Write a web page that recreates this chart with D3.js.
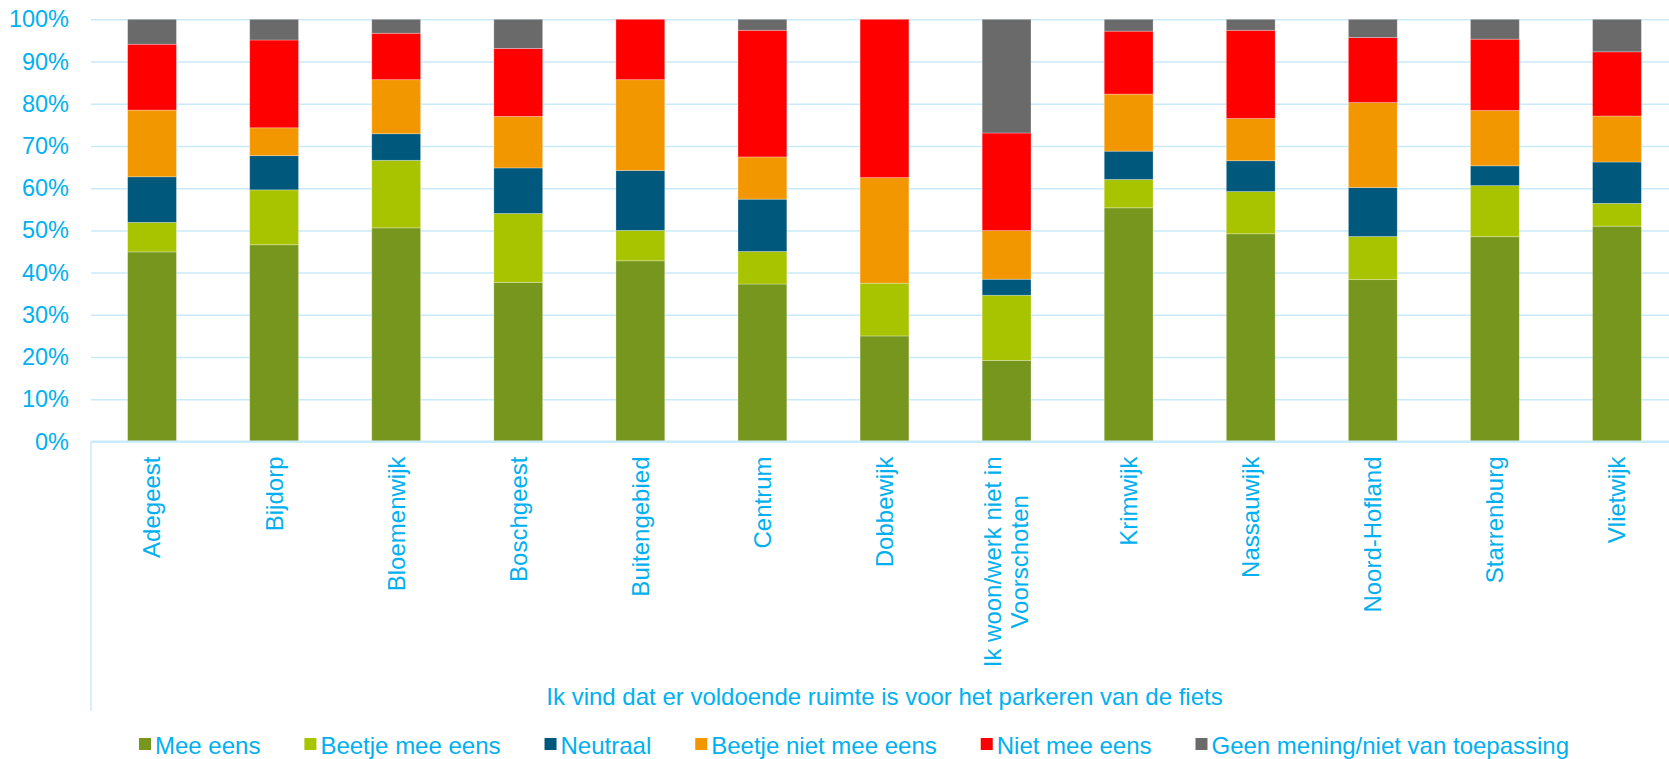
<!DOCTYPE html>
<html>
<head>
<meta charset="utf-8">
<script src="https://cdn.jsdelivr.net/npm/d3@7"></script>
<style>
  body { margin: 0; background: #fff; }
  svg { display: block; font-family: "Liberation Sans", Arial, sans-serif; }
</style>
</head>
<body>
<div id="chart"></div>
<script>
// chart data (percent per answer, per district)
const categories = [
  "Adegeest", "Bijdorp", "Bloemenwijk", "Boschgeest", "Buitengebied", "Centrum",
  "Dobbewijk", "Ik woon/werk niet in Voorschoten", "Krimwijk", "Nassauwijk",
  "Noord-Hofland", "Starrenburg", "Vlietwijk"
];
const seriesNames = [
  "Mee eens", "Beetje mee eens", "Neutraal", "Beetje niet mee eens",
  "Niet mee eens", "Geen mening/niet van toepassing"
];
const meeEens       = [44.9, 46.6, 50.6, 37.7, 42.8, 37.3, 25.0, 19.2, 55.3, 49.2, 38.3, 48.5, 51.0];
const beetjeMeeEens = [7.0, 13.0, 16.0, 16.3, 7.2, 7.7, 12.5, 15.4, 6.7, 10.0, 10.2, 12.1, 5.4];
const neutraal      = [10.8, 8.1, 6.3, 10.8, 14.2, 12.4, 0, 3.8, 6.7, 7.3, 11.6, 4.7, 9.8];
const beetjeNiet    = [15.8, 6.6, 12.8, 12.2, 21.5, 10.0, 25.0, 11.5, 13.5, 10.0, 20.1, 13.1, 10.9];
const nietMeeEens   = [15.6, 20.8, 11.0, 16.1, 14.3, 30.0, 37.5, 23.1, 14.9, 20.9, 15.4, 16.9, 15.2];
const geenMening    = [5.9, 4.9, 3.3, 6.9, 0, 2.6, 0, 26.9, 2.8, 2.6, 4.3, 4.7, 7.7];
const yTicks = [0, 0.1, 0.2, 0.3, 0.4, 0.5, 0.6, 0.7, 0.8, 0.9, 1];
const axisTitle = "Ik vind dat er voldoende ruimte is voor het parkeren van de fiets";

const seriesValues = [meeEens, beetjeMeeEens, neutraal, beetjeNiet, nietMeeEens, geenMening];
const colors = ["#76961d", "#a8c300", "#00587c", "#f39700", "#ff0000", "#6a6a6a"];
const textColor = "#00b0f0";
const gridColor = "#c8eafa";

const width = 1669;
const height = 759;
const plot = { left: 91, right: 1678, top: 19.3, bottom: 441.5 };
const fontSize = "24px";

// rows for d3.stack
const rows = categories.map((c, i) => {
  const r = { category: c };
  seriesNames.forEach((s, j) => (r[s] = seriesValues[j][i]));
  return r;
});

const stacked = d3.stack()
  .keys(seriesNames)
  .offset(d3.stackOffsetExpand)(rows);

const x = d3.scaleBand()
  .domain(categories)
  .range([plot.left, plot.right])
  .paddingInner(0.6)
  .paddingOuter(0.3);

const y = d3.scaleLinear()
  .domain([0, 1])
  .range([plot.bottom, plot.top]);

const color = d3.scaleOrdinal().domain(seriesNames).range(colors);

const svg = d3.select("#chart")
  .append("svg")
  .attr("width", width)
  .attr("height", height);

// y axis + gridlines
const yAxis = svg.append("g")
  .attr("transform", `translate(${plot.left},0)`)
  .call(d3.axisLeft(y)
    .tickValues(yTicks)
    .tickFormat(d3.format(".0%"))
    .tickSizeInner(-(plot.right - plot.left))
    .tickSizeOuter(0)
    .tickPadding(22));
yAxis.select(".domain").remove();
yAxis.selectAll(".tick line")
  .attr("stroke", gridColor)
  .attr("stroke-width", 1.5);
yAxis.selectAll(".tick text")
  .attr("fill", textColor)
  .style("font-size", "23.5px");

// bars
svg.append("g")
  .selectAll("g")
  .data(stacked)
  .join("g")
  .attr("fill", (d) => color(d.key))
  .selectAll("rect")
  .data((d) => d)
  .join("rect")
  .attr("x", (d) => x(d.data.category))
  .attr("y", (d) => y(d[1]))
  .attr("width", x.bandwidth())
  .attr("height", (d) => y(d[0]) - y(d[1]))
  .attr("stroke", "#ffffff")
  .attr("stroke-opacity", 0.35)
  .attr("stroke-width", 0.8);

// category axis line and the left border of the label area
svg.append("line")
  .attr("x1", plot.left).attr("x2", plot.right)
  .attr("y1", plot.bottom).attr("y2", plot.bottom)
  .attr("stroke", gridColor).attr("stroke-width", 2);
svg.append("line")
  .attr("x1", plot.left).attr("x2", plot.left)
  .attr("y1", plot.bottom).attr("y2", 711)
  .attr("stroke", gridColor).attr("stroke-width", 1.5);

// rotated category labels, wrapped if too long (lines centred)
const labelTop = plot.bottom + 15;
const lineHeight = 27;
const maxLabel = 215;

const measure = svg.append("text").style("font-size", fontSize);
function textWidth(s) {
  measure.text(s);
  return measure.node().getComputedTextLength();
}
function wrap(label) {
  const words = label.split(" ");
  const lines = [];
  let line = "";
  words.forEach((w) => {
    const test = line ? line + " " + w : w;
    if (line && textWidth(test) > maxLabel) {
      lines.push(line);
      line = w;
    } else {
      line = test;
    }
  });
  lines.push(line);
  return lines;
}

categories.forEach((c) => {
  const lines = wrap(c);
  const longest = d3.max(lines, textWidth);
  const g = svg.append("g")
    .attr("transform", `translate(${x(c) + x.bandwidth() / 2},${labelTop}) rotate(-90)`);
  g.selectAll("text")
    .data(lines)
    .join("text")
    .attr("x", -longest / 2)
    .attr("y", (d, i) => (i - (lines.length - 1) / 2) * lineHeight)
    .attr("dy", "0.35em")
    .attr("text-anchor", "middle")
    .attr("fill", textColor)
    .style("font-size", fontSize)
    .text((d) => d);
});
measure.remove();

// axis title
svg.append("text")
  .attr("x", (plot.left + plot.right) / 2)
  .attr("y", 705)
  .attr("text-anchor", "middle")
  .attr("fill", textColor)
  .style("font-size", fontSize)
  .text(axisTitle);

// legend
const legend = svg.append("g").attr("transform", "translate(139,738)");
let lx = 0;
seriesNames.forEach((s) => {
  const item = legend.append("g").attr("transform", `translate(${lx},0)`);
  item.append("rect")
    .attr("width", 12)
    .attr("height", 12)
    .attr("fill", color(s));
  const t = item.append("text")
    .attr("x", 16)
    .attr("y", 15.5)
    .attr("fill", textColor)
    .style("font-size", fontSize)
    .text(s);
  lx += 16 + t.node().getComputedTextLength() + 44;
});
</script>
</body>
</html>
